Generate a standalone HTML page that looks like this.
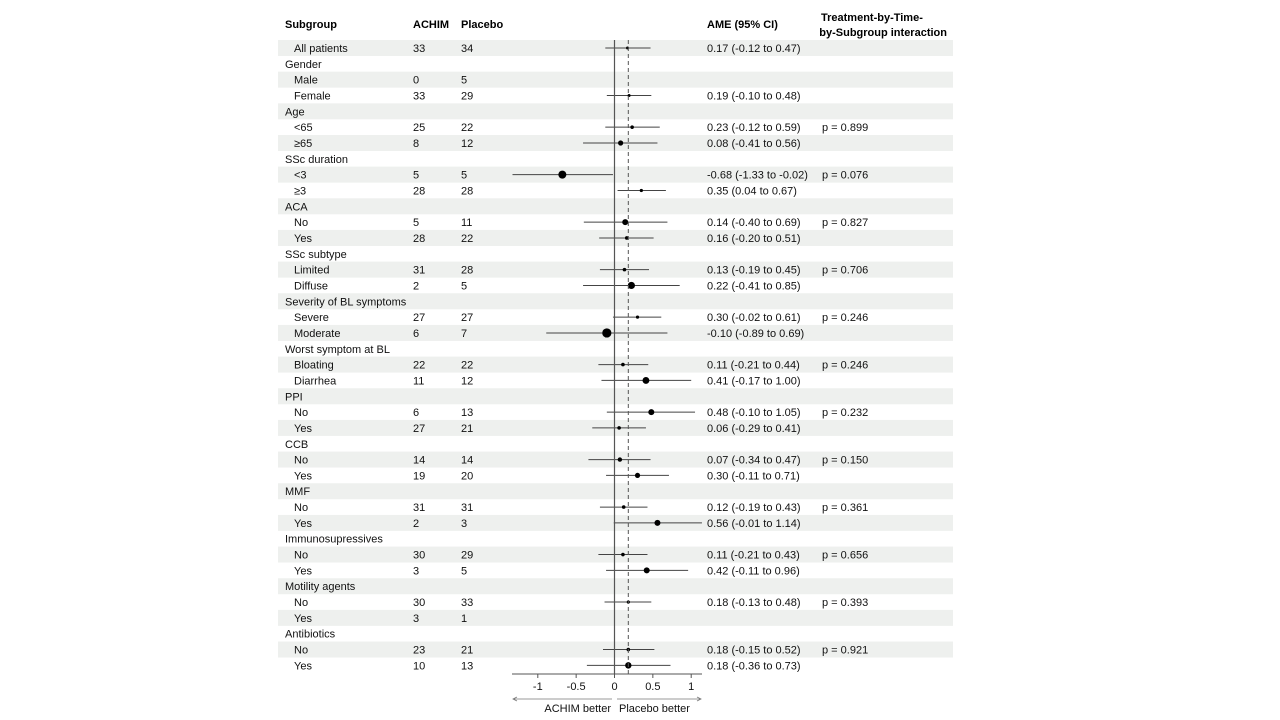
<!DOCTYPE html>
<html><head><meta charset="utf-8"><style>
html,body{margin:0;padding:0;background:#fff;}
svg{display:block;font-family:"Liberation Sans",Arial,sans-serif;font-size:11px;}
</style></head><body>
<svg id="chart" width="1280" height="720" viewBox="0 0 1280 720" xmlns="http://www.w3.org/2000/svg">
<g id="bands"></g>
<g id="headers" font-weight="bold">
<text x="285" y="28">Subgroup</text>
<text x="413" y="28">ACHIM</text>
<text x="461" y="28">Placebo</text>
<text x="707" y="28">AME (95% CI)</text>
<text x="821" y="21">Treatment-by-Time-</text>
<text x="947" y="36" text-anchor="end">by-Subgroup interaction</text>
</g>
<g id="table"></g>
<g id="plot"></g>
<g id="axis"></g>
</svg>
<script>
const labels=["All patients","Gender","Male","Female","Age","<65","≥65","SSc duration","<3","≥3","ACA","No","Yes","SSc subtype","Limited","Diffuse","Severity of BL symptoms","Severe","Moderate","Worst symptom at BL","Bloating","Diarrhea","PPI","No","Yes","CCB","No","Yes","MMF","No","Yes","Immunosupressives","No","Yes","Motility agents","No","Yes","Antibiotics","No","Yes"];
const isHeader=[0,1,0,0,1,0,0,1,0,0,1,0,0,1,0,0,1,0,0,1,0,0,1,0,0,1,0,0,1,0,0,1,0,0,1,0,0,1,0,0];
const achim=["33","","0","33","","25","8","","5","28","","5","28","","31","2","","27","6","","22","11","","6","27","","14","19","","31","2","","30","3","","30","3","","23","10"];
const placebo=["34","","5","29","","22","12","","5","28","","11","22","","28","5","","27","7","","22","12","","13","21","","14","20","","31","3","","29","5","","33","1","","21","13"];
const est=[0.17,null,null,0.19,null,0.23,0.08,null,-0.68,0.35,null,0.14,0.16,null,0.13,0.22,null,0.30,-0.10,null,0.11,0.41,null,0.48,0.06,null,0.07,0.30,null,0.12,0.56,null,0.11,0.42,null,0.18,null,null,0.18,0.18];
const lo=[-0.12,null,null,-0.10,null,-0.12,-0.41,null,-1.33,0.04,null,-0.40,-0.20,null,-0.19,-0.41,null,-0.02,-0.89,null,-0.21,-0.17,null,-0.10,-0.29,null,-0.34,-0.11,null,-0.19,-0.01,null,-0.21,-0.11,null,-0.13,null,null,-0.15,-0.36];
const hi=[0.47,null,null,0.48,null,0.59,0.56,null,-0.02,0.67,null,0.69,0.51,null,0.45,0.85,null,0.61,0.69,null,0.44,1.00,null,1.05,0.41,null,0.47,0.71,null,0.43,1.14,null,0.43,0.96,null,0.48,null,null,0.52,0.73];
const markerSize=[1.5,0,0,1.5,0,1.8,2.6,0,4,1.6,0,3,1.8,0,1.8,3.6,0,1.6,4.6,0,1.8,3.4,0,3,1.8,0,2.2,2.6,0,1.8,3,0,1.8,3,0,1.6,0,0,1.8,3.2];
const pvals=["","","","","","p = 0.899","","","p = 0.076","","","p = 0.827","","","p = 0.706","","","p = 0.246","","","p = 0.246","","","p = 0.232","","","p = 0.150","","","p = 0.361","","","p = 0.656","","","p = 0.393","","","p = 0.921",""];
const overall=0.18;
const ticks=[-1,-0.5,0,0.5,1];
const tickLabels=["-1","-0.5","0","0.5","1"];

const NS="http://www.w3.org/2000/svg";
const x0=614.5, unit=76.7;
const xs=v=>x0+v*unit;
const ys=i=>48+i*15.83;
function mk(tag,attrs,parent,text){const e=document.createElementNS(NS,tag);for(const k in attrs)e.setAttribute(k,attrs[k]);if(text!==undefined)e.textContent=text;parent.appendChild(e);return e;}
const bands=document.getElementById('bands'),table=document.getElementById('table'),plot=document.getElementById('plot'),axis=document.getElementById('axis');
const fmt=v=>v.toFixed(2);
labels.forEach((lab,i)=>{
  const y=ys(i);
  if(i%2===0){const r=mk('rect',{x:278,y:y-8,width:675,height:16,fill:'#eef0ee'},bands);
    
    }
  const t=mk('text',{x:isHeader[i]?285:294,y:y+4,fill:'#111'},table,lab);
  
  
  if(achim[i]){const a=mk('text',{x:413,y:y+4,fill:'#111'},table,achim[i]);
    
    }
  if(placebo[i]){const p=mk('text',{x:461,y:y+4,fill:'#111'},table,placebo[i]);
    
    }
  if(est[i]!==null){
    const ame=mk('text',{x:707,y:y+4,fill:'#111'},table,fmt(est[i])+" ("+fmt(lo[i])+" to "+fmt(hi[i])+")");
    
    
    const l=mk('line',{x1:xs(lo[i]),x2:xs(hi[i]),y1:y,y2:y,stroke:'#444','stroke-width':1},plot);
    
    
    const c=mk('circle',{cx:xs(est[i]),cy:y,r:markerSize[i],fill:'#000'},plot);
    
    
  }
  if(pvals[i]){const pv=mk('text',{x:822,y:y+4,fill:'#111'},table,pvals[i]);
    
    }
});
const zl=mk('line',{x1:xs(0),x2:xs(0),y1:40,y2:674,stroke:'#555','stroke-width':1.2},plot);


const dl=mk('line',{x1:xs(overall),x2:xs(overall),y1:40,y2:674,stroke:'#555','stroke-width':1,'stroke-dasharray':'4,3'},plot);


const al=mk('line',{x1:512,x2:702,y1:674,y2:674,stroke:'#555','stroke-width':1},axis);


ticks.forEach((v,k)=>{
  const tk=mk('line',{x1:xs(v),x2:xs(v),y1:674,y2:678,stroke:'#555'},axis);
  
  
  const tl=mk('text',{x:xs(v),y:690,'text-anchor':'middle',fill:'#111'},axis,tickLabels[k]);
  
  
});
const arr=mk('path',{d:'M612 699 H513 M517 697 L513 699 L517 701 M617 699 H701 M697 697 L701 699 L697 701',stroke:'#777',fill:'none','stroke-width':0.8},axis);


const lb=mk('text',{x:611,y:712,'text-anchor':'end',fill:'#111'},axis,'ACHIM better');


const rb=mk('text',{x:619,y:712,fill:'#111'},axis,'Placebo better');


</script>
</body></html>
